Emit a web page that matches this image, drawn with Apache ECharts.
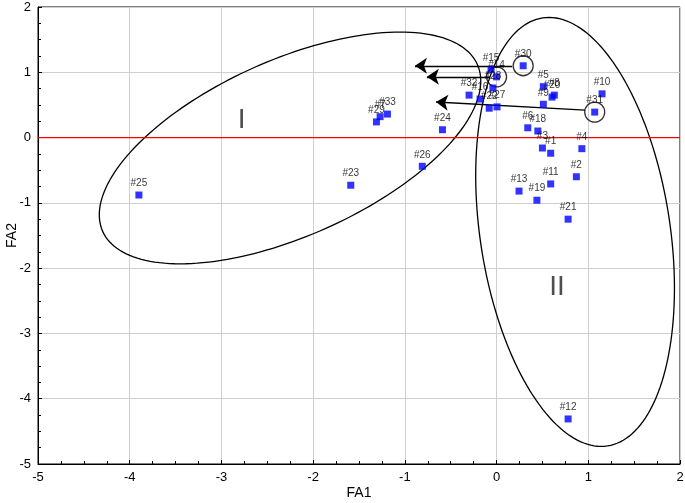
<!DOCTYPE html>
<html><head><meta charset="utf-8">
<script src="https://cdn.jsdelivr.net/npm/echarts@6/dist/echarts.min.js"></script>
<style>html,body{margin:0;padding:0;background:#fff}#c{width:685px;height:503px}</style>
</head><body><div id="c"></div>
<script>
// ---- data ----
const pointLabels = ['#1','#2','#3','#4','#5','#6','#7','#8','#9','#10','#11','#12','#13','#14','#15','#16',
  '#18','#19','#20','#21','#22','#23','#24','#25','#26','#27','#28','#29','#30','#31','#32','#33'];
const pointX = [0.59,0.87,0.50,0.93,0.51,0.34,-1.27,0.63,0.51,1.15,0.59,0.78,0.245,0.0,-0.06,-0.18,
  0.45,0.44,0.605,0.78,-0.08,-1.59,-0.59,-3.90,-0.81,0.005,-0.04,-1.31,0.29,1.07,-0.30,-1.19];
const pointY = [-0.24,-0.60,-0.16,-0.17,0.78,0.15,0.32,0.65,0.51,0.67,-0.71,-4.31,-0.82,0.93,1.04,0.59,
  0.10,-0.96,0.62,-1.25,0.45,-0.73,0.12,-0.88,-0.44,0.47,0.76,0.24,1.10,0.39,0.65,0.36];
const circledLabels = ['#30','#14','#31'];
const arrowFromX = [0.17, -0.07, 0.965];
const arrowFromY = [1.10, 0.93, 0.42];
const arrowToX = [-0.89, -0.76, -0.66];
const arrowToY = [1.10, 0.93, 0.545];
const groupNames = ['I', 'II'];
const groupX = [-2.78, 0.66];
const groupY = [0.27, -2.30];
const ellipseCX = [-2.252, 0.856];
const ellipseCY = [-0.159, -1.445];
const ellipseA = [2.236, 2.36];  // semi-major, in x-axis units
const ellipseB = [0.96, 1.036];  // semi-minor, in x-axis units
const ellipseAngle = [24, 98.6]; // degrees
const axisMin = -5, axisMax = 2, axisStep = 1;
const zeroLineY = 0;
const xName = 'FA1', yName = 'FA2';

// ---- build ----
const pts = pointLabels.map((n, i) => ({ name: n, value: [pointX[i], pointY[i]] }));
const circ = circledLabels.map(n => { const i = pointLabels.indexOf(n); return { name: n, value: [pointX[i], pointY[i]] }; });
const arrows = arrowFromX.map((x, i) => ({ coords: [[x, arrowFromY[i]], [arrowToX[i], arrowToY[i]]] }));
const groups = groupNames.map((n, i) => ({ name: n, value: [groupX[i], groupY[i]] }));
const ells = ellipseCX.map((x, i) => [x, ellipseCY[i], ellipseA[i], ellipseB[i], ellipseAngle[i]]);

const font = 'Liberation Sans, Arial, sans-serif';
const axisCommon = {
  type: 'value', min: axisMin, max: axisMax, interval: axisStep,
  nameLocation: 'middle', nameMoveOverlap: false,
  nameTextStyle: { fontFamily: font, fontSize: 14, color: '#000', verticalAlign: 'middle' },
  axisLine: { onZero: false, lineStyle: { color: '#000', width: 1 } },
  axisTick: { inside: true, length: 4, lineStyle: { color: '#000' } },
  minorTick: { show: true, splitNumber: 4, length: 3, lineStyle: { color: '#000' } },
  axisLabel: { fontFamily: font, fontSize: 13, color: '#000', margin: 7 },
  splitLine: { show: true, lineStyle: { color: '#cfcfcf', width: 1 } }
};
const chart = echarts.init(document.getElementById('c'));
chart.setOption({
  animation: false,
  backgroundColor: '#fff',
  grid: { left: 38, right: 5, top: 7, bottom: 39, containLabel: false, outerBoundsMode: 'none',
          show: true, borderColor: '#000', borderWidth: 1 },
  xAxis: Object.assign({}, axisCommon, { name: xName, nameGap: 29 }),
  yAxis: Object.assign({}, axisCommon, { name: yName, nameGap: 26 }),
  series: [
    {
      type: 'line', z: 3, silent: true, symbol: 'none',
      lineStyle: { color: '#ff0000', width: 1.2 },
      data: [[axisMin, zeroLineY], [axisMax, zeroLineY]]
    },
    {
      type: 'custom', z: 2, silent: true,
      data: ells,
      encode: { x: 0, y: 1 },
      renderItem: function (params, api) {
        const c = api.coord([api.value(0), api.value(1)]);
        const ux = api.size([1, 0])[0];
        const a = api.value(2) * ux, b = api.value(3) * ux;
        const th = api.value(4) * Math.PI / 180;
        const pts = [];
        for (let k = 0; k < 180; k++) {
          const t = k / 180 * Math.PI * 2;
          const px = c[0] + a * Math.cos(t) * Math.cos(th) - b * Math.sin(t) * Math.sin(th);
          const py = c[1] - (a * Math.cos(t) * Math.sin(th) + b * Math.sin(t) * Math.cos(th));
          pts.push([px, py]);
        }
        return { type: 'polygon', shape: { points: pts }, style: { fill: 'none', stroke: '#000', lineWidth: 1.3 } };
      }
    },
    {
      type: 'lines', coordinateSystem: 'cartesian2d', z: 4, silent: true,
      symbol: ['none', 'arrow'], symbolSize: 12,
      lineStyle: { color: '#000', width: 1.3, opacity: 1, curveness: 0 },
      data: arrows
    },
    {
      type: 'scatter', z: 5, silent: true,
      symbol: 'circle', symbolSize: 20,
      itemStyle: { color: 'rgba(0,0,0,0)', borderColor: '#000', borderWidth: 1.3 },
      data: circ
    },
    {
      type: 'scatter', z: 6, silent: true,
      symbol: 'rect', symbolSize: 7,
      itemStyle: { color: '#0000ff' },
      label: { show: true, position: 'top', distance: 3, formatter: '{b}', fontFamily: font, fontSize: 10, color: '#000' },
      data: pts
    },
    {
      type: 'scatter', z: 6, silent: true, symbolSize: 0,
      label: { show: true, position: 'inside', formatter: '{b}', fontFamily: font, fontSize: 28, fontWeight: 'normal', color: '#222' },
      data: groups
    }
  ]
});
</script></body></html>
